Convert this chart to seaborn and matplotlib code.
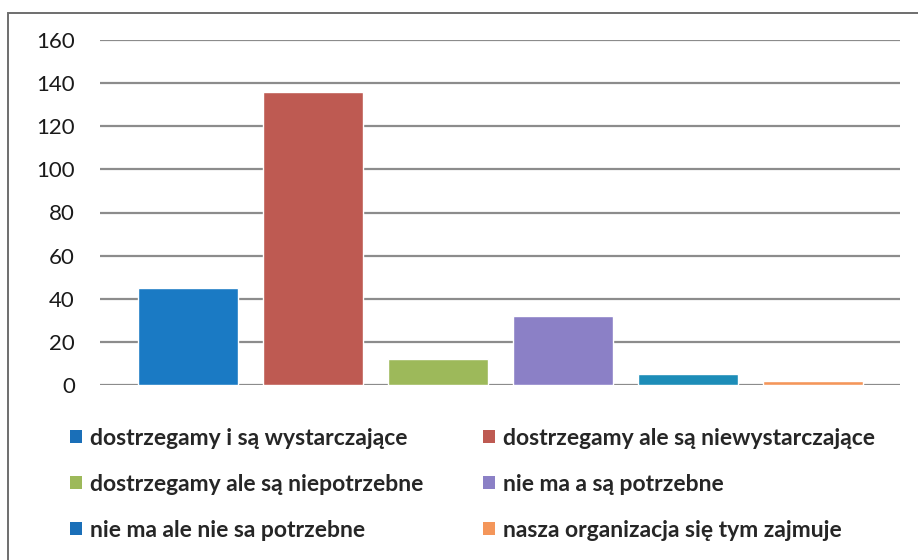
import pandas as pd
import seaborn as sns
import matplotlib.pyplot as plt
from matplotlib.patches import Rectangle, Patch

categories = [
    'dostrzegamy i są wystarczające',
    'dostrzegamy ale są niewystarczające',
    'dostrzegamy ale są niepotrzebne',
    'nie ma a są potrzebne',
    'nie ma ale nie sa potrzebne',
    'nasza organizacja się tym zajmuje',
]
values = [45, 136, 12, 32, 5, 2]
colors = ['#1A7AC4', '#BE5A52', '#9DB95A', '#8B80C6', '#1D8DB8', '#F4965A']
legend_colors = ['#1A6FB8', '#BE5A52', '#9DB95A', '#8B80C6', '#1A6FB8', '#F4965A']

df = pd.DataFrame({'kategoria': categories, 'liczba': values})

sns.set_style('white')
plt.rcParams['font.family'] = ['Lato', 'DejaVu Sans']

fig = plt.figure(figsize=(9.18, 5.6), dpi=100)
ax = fig.add_axes([100 / 918, 1 - 385 / 560, 800 / 918, 345 / 560])

sns.barplot(data=df, x='kategoria', y='liczba', hue='kategoria',
            palette=colors, dodge=False, width=0.8, saturation=1,
            legend=False, ax=ax)

ax.set_ylim(0, 160)
ax.set_xlim(-0.704, 5.696)
ax.set_yticks(range(0, 161, 20))
ax.yaxis.grid(True, color='#8C8C8C', linewidth=1.6)
ax.set_axisbelow(True)
ax.set_xticks([])
ax.set_xlabel('')
ax.set_ylabel('')
for s in ax.spines.values():
    s.set_visible(False)
ax.tick_params(axis='y', labelsize=16, pad=18, length=0, colors='#1a1a1a')

# outer frame
fig.patches.append(Rectangle((8 / 918, -0.1), 1.2, 1 - 13 / 560 + 0.1,
                             transform=fig.transFigure, fill=False,
                             edgecolor='#6e6e6e', linewidth=1.4))

handles = [Patch(facecolor=c, edgecolor='none') for c in legend_colors]
order = [0, 2, 4, 1, 3, 5]
fig.legend([handles[i] for i in order], [categories[i] for i in order],
           ncol=2, loc='upper left', bbox_to_anchor=(49 / 918, 1 - 407 / 560),
           frameon=False, handlelength=0.55, handleheight=0.55,
           handletextpad=0.35, columnspacing=2.57, labelspacing=1.09,
           prop={'weight': 'bold', 'size': 16.5})

fig.savefig('out.png', dpi=100)
